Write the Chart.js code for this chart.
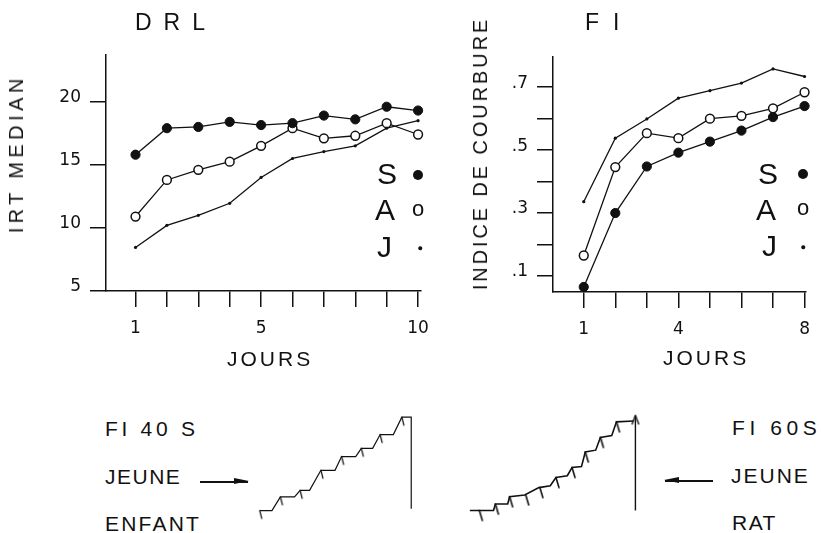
<!DOCTYPE html>
<html lang="fr">
<head>
<meta charset="UTF-8">
<title>DRL / FI - IRT médian et indice de courbure</title>
<script src="https://cdnjs.cloudflare.com/ajax/libs/Chart.js/4.4.1/chart.umd.min.js"></script>
<style>
    body { margin: 0; background: #fff; font-family: 'Liberation Sans', Arial, sans-serif; color: #111; }
    #page { position: relative; width: 821px; height: 533px; overflow: hidden; }
    canvas { position: absolute; }
    .txt { position: absolute; white-space: nowrap; line-height: 1; transform: translateY(-50%); }
    .ctr { position: absolute; white-space: nowrap; line-height: 1; transform: translate(-50%, -50%); }
    .vtxt { position: absolute; white-space: nowrap; line-height: 1; transform: translate(-50%, -50%) rotate(-90deg); }
    .dot { position: absolute; border-radius: 50%; background: #111; transform: translate(-50%, -50%); }
    .arrow { position: absolute; height: 1.5px; background: #111; }
    .arrow::after { content: ''; position: absolute; top: -2.75px; border-top: 3.5px solid transparent; border-bottom: 3.5px solid transparent; }
    .arrow.droite::after { right: -1px; border-left: 15px solid #111; }
    .arrow.gauche::after { left: -1px; border-right: 15px solid #111; }
</style>
</head>
<body>
<div id="page">
    <canvas id="drl" width="440" height="380" style="left:0;top:0"></canvas>
    <canvas id="fi" width="421" height="380" style="left:400px;top:0"></canvas>
    <canvas id="enfant" width="180" height="125" style="left:245px;top:400px"></canvas>
    <canvas id="rat" width="200" height="125" style="left:455px;top:400px"></canvas>

    <!-- titres -->
    <div class="txt" style="left:135px;top:22px;font-size:23px;letter-spacing:12px">DRL</div>
    <div class="txt" style="left:585px;top:22px;font-size:23px;letter-spacing:14px">FI</div>
    <div class="vtxt" style="left:15.5px;top:155.5px;font-size:20px;letter-spacing:4.4px;padding-left:4.4px">IRT MEDIAN</div>
    <div class="vtxt" style="left:480px;top:155px;font-size:20px;letter-spacing:2.9px;padding-left:2.9px">INDICE DE COURBURE</div>
    <div class="txt" style="left:227px;top:358px;font-size:21px;letter-spacing:3px">JOURS</div>
    <div class="txt" style="left:663px;top:357px;font-size:21px;letter-spacing:3px">JOURS</div>

    <!-- légendes -->
    <div class="txt" style="left:377px;top:174px;font-size:30px">S</div>
    <div class="dot" style="left:418px;top:175px;width:10px;height:10px"></div>
    <div class="txt" style="left:375px;top:210px;font-size:30px">A</div>
    <div class="ctr" style="left:418px;top:209px;font-size:22px">o</div>
    <div class="txt" style="left:377px;top:247px;font-size:30px">J</div>
    <div class="dot" style="left:420px;top:248px;width:3.5px;height:3.5px"></div>

    <div class="txt" style="left:758px;top:174px;font-size:30px">S</div>
    <div class="dot" style="left:803px;top:174px;width:10px;height:10px"></div>
    <div class="txt" style="left:756px;top:210px;font-size:30px">A</div>
    <div class="ctr" style="left:803px;top:208px;font-size:22px">o</div>
    <div class="txt" style="left:762px;top:246px;font-size:30px">J</div>
    <div class="dot" style="left:803px;top:247px;width:3.5px;height:3.5px"></div>

    <!-- enregistrements cumulés -->
    <div class="txt" style="left:105px;top:428px;font-size:21px;letter-spacing:3.7px">FI 40 S</div>
    <div class="txt" style="left:105px;top:476px;font-size:21px;letter-spacing:1.5px">JEUNE</div>
    <div class="txt" style="left:105px;top:523px;font-size:21px;letter-spacing:2.2px">ENFANT</div>
    <div class="arrow droite" style="left:200px;top:481px;width:48px"></div>

    <div class="txt" style="left:732px;top:427px;font-size:21px;letter-spacing:4.6px">FI 60S</div>
    <div class="txt" style="left:731px;top:475px;font-size:21px;letter-spacing:2px">JEUNE</div>
    <div class="txt" style="left:732px;top:522px;font-size:21px;letter-spacing:1.5px">RAT</div>
    <div class="arrow gauche" style="left:665px;top:480px;width:48px"></div>
</div>

<script>
    // DRL : IRT médian par jour
    const drlJours = [1, 2, 3, 4, 5, 6, 7, 8, 9, 10];
    const drlS = [15.8, 17.9, 18.0, 18.4, 18.15, 18.3, 18.9, 18.6, 19.6, 19.3];
    const drlA = [10.9, 13.8, 14.6, 15.25, 16.5, 17.9, 17.1, 17.3, 18.3, 17.4];
    const drlJ = [8.45, 10.2, 11.0, 11.95, 14.0, 15.5, 16.05, 16.5, 17.9, 18.5];
    const drlTicksY = [5, 10, 15, 20];
    const drlTicksX = [1, 2, 3, 4, 5, 6, 7, 8, 9, 10];
    const drlLabelsX = [1, 5, 10];

    // FI : indice de courbure par jour
    const fiJours = [1, 2, 3, 4, 5, 6, 7, 8];
    const fiS = [0.065, 0.30, 0.448, 0.492, 0.527, 0.562, 0.605, 0.64];
    const fiA = [0.165, 0.446, 0.554, 0.538, 0.60, 0.609, 0.633, 0.684];
    const fiJ = [0.336, 0.538, 0.599, 0.665, 0.689, 0.713, 0.758, 0.734];
    const fiTicksY = [0.1, 0.2, 0.3, 0.4, 0.5, 0.6, 0.7];
    const fiLabelsY = [0.1, 0.3, 0.5, 0.7];
    const fiTicksX = [1, 2, 3, 4, 5, 6, 7, 8];
    const fiLabelsX = [1, 4, 8];

    // enregistrements cumulés (temps, réponses cumulées) et renforcements
    const enfantT = [0, 13, 22, 37, 43, 53, 65, 80, 87, 102, 108, 120, 128, 142, 151, 161, 161];
    const enfantR = [0, 0, 15, 15, 22, 22, 44, 44, 59, 59, 68, 68, 83, 83, 102, 102, 2];
    const enfantRenfT = [0, 22, 43, 65, 87, 108, 128, 151];
    const enfantRenfR = [0, 15, 22, 44, 59, 68, 83, 102];

    const ratT = [0, 25, 27, 40, 42, 58, 73, 85, 91, 103, 108, 118, 122, 133, 138, 150, 155, 173];
    const ratR = [0, 0, 7, 7, 15, 17, 25, 27, 36, 38, 47, 48, 64, 66, 80, 82, 97, 98];
    const ratRenfT = [10, 27, 42, 59, 74, 91, 108, 122, 138, 155];
    const ratRenfR = [0, 7, 15, 17, 25, 36, 47, 64, 80, 97];
    const ratRemiseT = [175, 175];
    const ratRemiseR = [0, 104];

    const noir = '#111';
    Chart.defaults.font.family = "'Liberation Sans', Arial, sans-serif";
    Chart.defaults.color = noir;
    Chart.defaults.animation = false;
    Chart.defaults.plugins.legend.display = false;
    Chart.defaults.plugins.tooltip.enabled = false;

    const styleS = { pointRadius: 4.6, pointBackgroundColor: noir, pointBorderWidth: 1 };
    const styleA = { pointRadius: 4.4, pointBackgroundColor: '#fff', pointBorderWidth: 1.5 };
    const styleJ = { pointRadius: 1.6, pointBackgroundColor: noir, pointBorderWidth: 0 };

    function serie(xs, ys, style) {
        return Object.assign({
            data: xs.map((x, i) => ({ x: x, y: ys[i] })),
            borderColor: noir,
            borderWidth: 1.3,
            pointBorderColor: noir,
            clip: false
        }, style);
    }

    function axe(min, max, ticks, labels, fmt, vertical, size) {
        return {
            type: 'linear', min: min, max: max,
            afterBuildTicks: s => { s.ticks = ticks.map(v => ({ value: v })); },
            afterFit: s => { if (vertical) s.width = size; else s.height = size; },
            border: { display: true, color: noir, width: 1.5 },
            grid: { drawOnChartArea: false, drawTicks: true, tickLength: 16, color: noir, lineWidth: 1.5 },
            ticks: {
                autoSkip: false, maxRotation: 0,
                padding: vertical ? 9 : 11,
                labelOffset: vertical ? -4 : 0,
                font: { family: "'DejaVu Sans', sans-serif", size: 17 },
                callback: v => labels.includes(v) ? fmt(v) : ''
            }
        };
    }

    new Chart(document.getElementById('drl'), {
        type: 'line',
        data: {
            datasets: [
                serie(drlJours, drlS, styleS),
                serie(drlJours, drlA, styleA),
                serie(drlJours, drlJ, styleJ)
            ]
        },
        options: {
            responsive: false,
            events: [],
            layout: { padding: { left: 46, right: 13, top: 55, bottom: 39 } },
            scales: {
                x: axe(0.06, 10.09, drlTicksX, drlLabelsX, v => String(v), false, 50),
                y: axe(5, 23.7, drlTicksY, drlTicksY, v => String(v), true, 60)
            }
        }
    });

    new Chart(document.getElementById('fi'), {
        type: 'line',
        data: {
            datasets: [
                serie(fiJours, fiS, styleS),
                serie(fiJours, fiA, styleA),
                serie(fiJours, fiJ, styleJ)
            ]
        },
        options: {
            responsive: false,
            events: [],
            layout: { padding: { left: 93, right: 11, top: 57, bottom: 38 } },
            scales: {
                x: axe(0.025, 8.03, fiTicksX, fiLabelsX, v => String(v), false, 50),
                y: axe(0.049, 0.796, fiTicksY, fiLabelsY, v => String(v).replace('0.', '.'), true, 60)
            }
        }
    });

    // petit trait de renforcement, dessiné depuis le point vers le bas
    function trait(len, dx, w) {
        const s = 2 * len + 6, c = document.createElement('canvas');
        c.width = s; c.height = s;
        const g = c.getContext('2d');
        g.strokeStyle = noir; g.lineWidth = w; g.lineCap = 'round';
        g.beginPath();
        g.moveTo(s / 2, s / 2);
        g.lineTo(s / 2 + dx, s / 2 + len);
        g.stroke();
        return c;
    }

    // pointe de flèche ouverte vers le haut
    function pointe(len, w) {
        const s = 2 * len + 6, c = document.createElement('canvas');
        c.width = s; c.height = s;
        const g = c.getContext('2d');
        g.strokeStyle = noir; g.lineWidth = w; g.lineJoin = 'round';
        g.beginPath();
        g.moveTo(s / 2 - 3.5, s / 2 + len);
        g.lineTo(s / 2, s / 2);
        g.lineTo(s / 2 + 3.5, s / 2 + len);
        g.stroke();
        return c;
    }

    function enregistrement(id, xmax, traces) {
        new Chart(document.getElementById(id), {
            type: 'scatter',
            data: { datasets: traces },
            options: {
                responsive: false,
                events: [],
                layout: { padding: 0 },
                scales: {
                    x: { type: 'linear', display: false, min: -10, max: xmax },
                    y: { type: 'linear', display: false, min: -10, max: 115 }
                }
            }
        });
    }

    enregistrement('enfant', 170, [
        Object.assign(serie(enfantT, enfantR, {}), { showLine: true, pointRadius: 0, borderWidth: 1.2 }),
        Object.assign(serie(enfantRenfT, enfantRenfR, {}), { showLine: false, pointRadius: 3, pointStyle: trait(8, 2, 1.2) })
    ]);

    enregistrement('rat', 190, [
        Object.assign(serie(ratT, ratR, {}), { showLine: true, pointRadius: 0, borderWidth: 1.6 }),
        Object.assign(serie(ratRenfT, ratRenfR, {}), { showLine: false, pointRadius: 3, pointStyle: trait(10, 3, 1.6) }),
        Object.assign(serie(ratRemiseT, ratRemiseR, {}), {
            showLine: true, borderWidth: 1.4, pointRadius: [0, 4],
            pointStyle: pointe(9, 1.4)
        })
    ]);
</script>
</body>
</html>
